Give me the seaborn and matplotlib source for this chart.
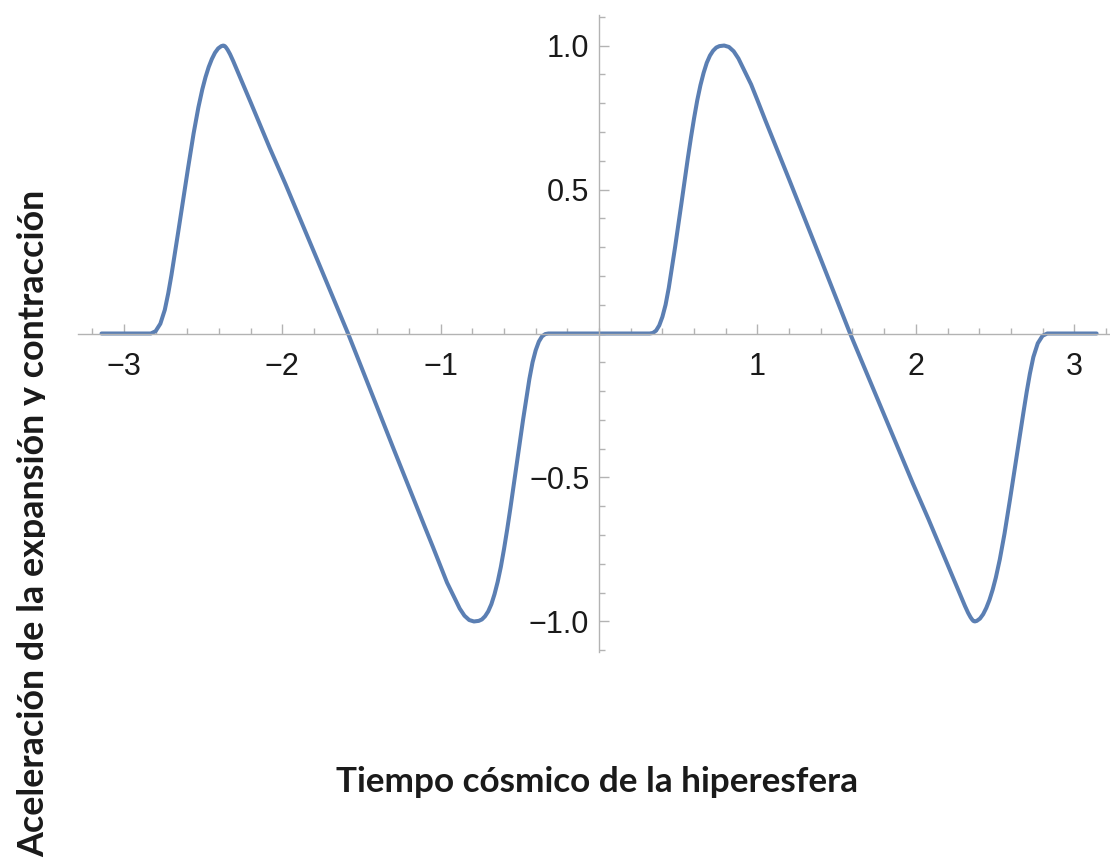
import matplotlib
matplotlib.use("Agg")
import matplotlib.pyplot as plt
import seaborn as sns
from matplotlib.ticker import MultipleLocator, FixedLocator
from matplotlib.transforms import Bbox, TransformedBbox

# Cosmic time (negative branch) and acceleration values
t_neg = [-3.1416, -2.83, -2.80, -2.77, -2.742, -2.72, -2.70, -2.68, -2.658, -2.63,
         -2.595, -2.56, -2.53, -2.505, -2.485, -2.465, -2.445, -2.425, -2.405, -2.385,
         -2.372, -2.363, -2.355, -2.345, -2.33, -2.31, -2.28, -2.24, -2.20, -2.16,
         -2.08, -1.98, -1.88, -1.78, -1.68, -1.585, -1.50, -1.40, -1.30, -1.20,
         -1.10, -1.05, -1.00, -0.96, -0.92, -0.88, -0.85, -0.82, -0.79, -0.76,
         -0.74, -0.72, -0.70, -0.68, -0.66, -0.64, -0.62, -0.60, -0.58, -0.56,
         -0.54, -0.52, -0.50, -0.48, -0.46, -0.44, -0.42, -0.40, -0.38, -0.36,
         -0.34, -0.32, -0.30]
a_neg = [0.0, 0.0, 0.008, 0.034, 0.082, 0.14, 0.203, 0.272, 0.35, 0.45,
         0.575, 0.695, 0.785, 0.848, 0.89, 0.925, 0.953, 0.975, 0.99, 0.998,
         1.0, 0.998, 0.993, 0.985, 0.97, 0.946, 0.907, 0.855, 0.803, 0.75,
         0.645, 0.519, 0.388, 0.257, 0.125, 0.0, -0.118, -0.258, -0.397, -0.535,
         -0.672, -0.74, -0.81, -0.865, -0.91, -0.955, -0.98, -0.995, -1.0, -0.998,
         -0.993, -0.982, -0.965, -0.94, -0.905, -0.862, -0.81, -0.748, -0.68, -0.607,
         -0.53, -0.452, -0.375, -0.30, -0.228, -0.158, -0.10, -0.058, -0.028, -0.01,
         -0.002, 0.0, 0.0]

# Cosmic time (positive branch) and acceleration values
t_pos = [0.00, 0.30, 0.32, 0.34, 0.36, 0.38, 0.40, 0.42, 0.44, 0.46,
         0.48, 0.50, 0.52, 0.54, 0.56, 0.58, 0.60, 0.62, 0.64, 0.66,
         0.68, 0.70, 0.72, 0.74, 0.76, 0.79, 0.82, 0.85, 0.88, 0.92,
         0.96, 1.00, 1.05, 1.10, 1.20, 1.30, 1.40, 1.50, 1.585, 1.68,
         1.78, 1.88, 1.98, 2.08, 2.16, 2.20, 2.24, 2.28, 2.31, 2.33,
         2.345, 2.355, 2.363, 2.372, 2.385, 2.405, 2.425, 2.445, 2.465, 2.485,
         2.505, 2.53, 2.56, 2.595, 2.63, 2.658, 2.68, 2.70, 2.72, 2.742,
         2.77, 2.80, 2.83, 3.1416]
a_pos = [0.0, 0.0, 0.0, 0.002, 0.01, 0.028, 0.058, 0.10, 0.158, 0.228,
         0.30, 0.375, 0.452, 0.53, 0.607, 0.68, 0.748, 0.81, 0.862, 0.905,
         0.94, 0.965, 0.982, 0.993, 0.998, 1.0, 0.995, 0.98, 0.955, 0.91,
         0.865, 0.81, 0.74, 0.672, 0.535, 0.397, 0.258, 0.118, 0.0, -0.125,
         -0.257, -0.388, -0.519, -0.645, -0.75, -0.803, -0.855, -0.907, -0.946, -0.97,
         -0.985, -0.993, -0.998, -1.0, -0.998, -0.99, -0.975, -0.953, -0.925, -0.89,
         -0.848, -0.785, -0.695, -0.575, -0.45, -0.35, -0.272, -0.203, -0.14, -0.082,
         -0.034, -0.008, 0.0, 0.0]

x_ticks = [-3, -2, -1, 1, 2, 3]
y_ticks = [-1.0, -0.5, 0.5, 1.0]
x_label = "Tiempo cósmico de la hiperesfera"
y_label = "Aceleración de la expansión y contracción"

sns.set_style("white")
plt.rcParams["font.family"] = ["Liberation Sans", "DejaVu Sans"]
plt.rcParams["axes.unicode_minus"] = True

W, H = 1110, 861
fig = plt.figure(figsize=(W / 100, H / 100), dpi=100)
ax = fig.add_axes([78 / W, 1 - 651.7 / H, (W - 78) / W, 636.4 / H])

t = t_neg + t_pos
a = a_neg + a_pos
sns.lineplot(x=t, y=a, ax=ax, color="#5b7fb3", linewidth=2.9,
             estimator=None, sort=False, solid_capstyle="round",
             solid_joinstyle="round", clip_on=False)

ax.set_xlim(-3.29, 3.226)
ax.set_ylim(-1.105, 1.105)
ax.set_xlabel("")
ax.set_ylabel("")

# Axes crossing at the origin
axis_gray = "#b3b3b3"
for side in ("top", "right"):
    ax.spines[side].set_visible(False)
for side in ("left", "bottom"):
    ax.spines[side].set_position(("data", 0))
    ax.spines[side].set_color(axis_gray)
    ax.spines[side].set_linewidth(1.0)

ax.xaxis.set_major_locator(FixedLocator(x_ticks))
ax.yaxis.set_major_locator(FixedLocator(y_ticks))
ax.xaxis.set_minor_locator(MultipleLocator(0.2))
ax.yaxis.set_minor_locator(MultipleLocator(0.1))
ax.set_xticklabels([f"{v:d}".replace("-", "\u2212") for v in x_ticks])
ax.set_yticklabels([f"{v:.1f}".replace("-", "\u2212") for v in y_ticks])

ax.tick_params(which="both", direction="in", color=axis_gray, width=1.0,
               bottom=True, left=True, top=False, right=False)
ax.tick_params(which="major", length=7.2)
ax.tick_params(which="minor", length=4.3)
ax.tick_params(axis="x", which="major", pad=13, labelsize=22, labelcolor="#1a1a1a")
ax.tick_params(axis="y", which="major", pad=7, labelsize=22, labelcolor="#1a1a1a")
ax.set_facecolor("white")
fig.patch.set_facecolor("white")

label_font = ["Lato", "DejaVu Sans"]
xt = fig.text(597 / W, 1 - 792 / H, x_label, ha="center", va="baseline",
              fontsize=22, fontweight="bold", family=label_font, color="#1a1a1a")
yt = fig.text(44 / W, 1 - 857 / H, y_label, rotation=90, rotation_mode="anchor",
              ha="left", va="baseline", fontsize=22, fontweight="bold",
              family=label_font, color="#1a1a1a")

# Size both titles to their run lengths
fig.canvas.draw()
rend = fig.canvas.get_renderer()
w_x = xt.get_window_extent(rend).width
xt.set_fontsize(xt.get_fontsize() * 522 / w_x)
h_y = yt.get_window_extent(rend).height
yt.set_fontsize(yt.get_fontsize() * 667 / h_y)

# Vertical title is cut along its baseline
yt.set_clip_box(TransformedBbox(Bbox.from_extents(0, 0, 45 / W, 1), fig.transFigure))
yt.set_clip_on(True)

fig.savefig("out.png", dpi=100, facecolor="white")
